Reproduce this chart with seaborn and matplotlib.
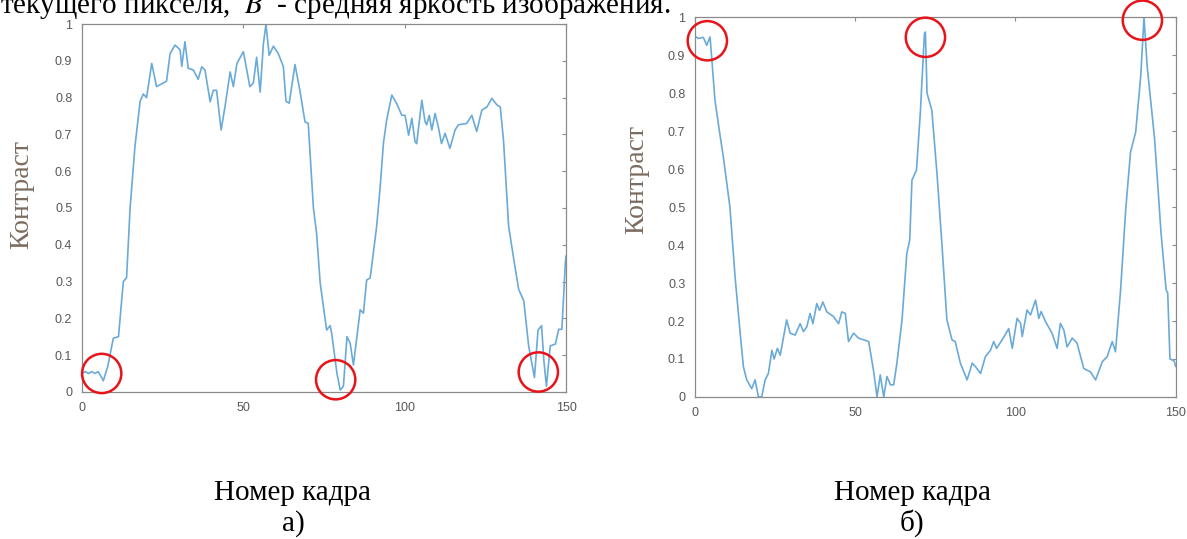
import matplotlib
matplotlib.use('Agg')
import matplotlib.pyplot as plt
import seaborn as sns

# кадры и контраст (а)
frames_a = [0, 1, 2, 3, 4, 5, 6, 6.6, 8, 9.7, 11.3, 12.8, 13.8, 14.9, 16.4, 18, 19, 20, 21.6, 23.1,
            25.2, 26.2, 27.3, 28.8, 30.4, 30.9, 31.9, 32.9, 34.5, 36, 37.1, 38.1, 39.7, 40.7, 41.7,
            43.1, 44.3, 45.9, 46.9, 48, 50, 52, 53.1, 54.1, 55.2, 56.2, 57, 58, 59.3, 60.8, 62.4,
            63.2, 64.2, 66, 67.5, 69.1, 70.1, 71.7, 72.7, 73.8, 75.8, 76.9, 77.4, 79, 80, 81, 82.1,
            83.1, 84.1, 86.2, 87.2, 88.2, 89.3, 91.3, 92.4, 93.4, 94.4, 96, 97.5, 99.1, 100.1,
            101.2, 102.2, 103.2, 103.7, 105.3, 106.3, 106.8, 107.6, 108.4, 109.4, 110.4, 111.4,
            112.5, 114, 115.6, 116.6, 119.2, 120.8, 122.3, 123.9, 125.5, 127, 128.6, 129.6, 130.6,
            132.2, 133.8, 135.3, 136.9, 138.4, 140.2, 141.3, 142.4, 143.1, 143.9, 145.1, 146.7,
            147.7, 148.7, 149.8, 150]
contrast_a = [0.05, 0.055, 0.05, 0.055, 0.05, 0.055, 0.04, 0.03, 0.07, 0.146, 0.15, 0.30, 0.31, 0.50,
              0.667, 0.79, 0.81, 0.80, 0.893, 0.83, 0.84, 0.845, 0.92, 0.943, 0.93, 0.885, 0.952,
              0.88, 0.875, 0.85, 0.884, 0.875, 0.789, 0.82, 0.82, 0.712, 0.775, 0.87, 0.83, 0.893,
              0.925, 0.83, 0.84, 0.91, 0.815, 0.946, 1.0, 0.915, 0.94, 0.92, 0.884, 0.79, 0.785,
              0.89, 0.82, 0.734, 0.73, 0.50, 0.43, 0.296, 0.168, 0.18, 0.157, 0.05, 0.005, 0.015,
              0.15, 0.132, 0.073, 0.223, 0.214, 0.304, 0.31, 0.45, 0.558, 0.676, 0.739, 0.807,
              0.784, 0.752, 0.752, 0.698, 0.744, 0.680, 0.675, 0.793, 0.735, 0.726, 0.752, 0.712,
              0.757, 0.721, 0.675, 0.703, 0.662, 0.712, 0.726, 0.73, 0.752, 0.708, 0.766, 0.775,
              0.798, 0.78, 0.775, 0.685, 0.45, 0.36, 0.279, 0.247, 0.125, 0.039, 0.168, 0.18,
              0.087, 0.015, 0.125, 0.13, 0.17, 0.17, 0.355, 0.37]

# картинка (б)
frames_b = [0, 1.05, 2.6, 3.65, 4.7, 5.2, 6.25, 7.8, 8.85, 10.9, 12.5, 14.1, 15.1, 16.15, 17.7, 18.75,
            19.8, 20.8, 21.9, 22.9, 24, 24.7, 25.7, 26.6, 28.6, 29.7, 31.25, 32.8, 33.85, 34.9, 35.9,
            36.8, 38, 38.85, 39.9, 41.15, 43.2, 44.8, 45.8, 46.9, 47.9, 49.5, 51, 54.2, 55.7, 56.8,
            57.8, 58.9, 59.9, 61, 62, 63, 64.6, 66.1, 67, 67.7, 69.1, 70.3, 71.6, 71.9, 72.4, 73.9,
            75.5, 77.1, 78.6, 80.2, 81.2, 82.8, 84.9, 86.5, 87.5, 89.1, 90.6, 92.2, 93.2, 94.1,
            95.8, 97.9, 99, 100.5, 101.6, 102.1, 103.6, 104.7, 106.25, 107.3, 108, 109.4, 111.4,
            113, 114, 115.1, 116.1, 117.7, 119.2, 121.3, 123.4, 125, 127.1, 128.6, 130.2, 131.2,
            132.8, 134.4, 135.9, 137.5, 139.1, 140.1, 141.1, 143.4, 145.4, 147, 147.5, 148.2,
            149.5, 150]
contrast_b = [0.95, 0.944, 0.947, 0.926, 0.948, 0.895, 0.78, 0.69, 0.632, 0.50, 0.317, 0.168, 0.08,
              0.045, 0.022, 0.045, 0.0, 0.0, 0.045, 0.062, 0.123, 0.1, 0.128, 0.11, 0.203, 0.168,
              0.163, 0.193, 0.172, 0.185, 0.22, 0.193, 0.246, 0.228, 0.25, 0.224, 0.212, 0.193,
              0.224, 0.22, 0.146, 0.168, 0.155, 0.146, 0.07, 0.0, 0.058, 0.0, 0.054, 0.032, 0.032,
              0.089, 0.203, 0.378, 0.413, 0.571, 0.597, 0.747, 0.957, 0.961, 0.80, 0.755, 0.589,
              0.396, 0.203, 0.150, 0.146, 0.089, 0.045, 0.089, 0.08, 0.062, 0.106, 0.123, 0.146,
              0.128, 0.150, 0.18, 0.128, 0.207, 0.194, 0.159, 0.229, 0.216, 0.255, 0.207, 0.225,
              0.198, 0.168, 0.128, 0.194, 0.176, 0.132, 0.155, 0.142, 0.075, 0.066, 0.045, 0.093,
              0.106, 0.146, 0.119, 0.282, 0.494, 0.645, 0.697, 0.847, 1.0, 0.87, 0.68, 0.434,
              0.282, 0.274, 0.1, 0.095, 0.08]

# красные кружки (центры)
circles_a_x = [6.1, 78.6, 141.4]
circles_a_y = [0.05, 0.033, 0.054]
circles_b_x = [3.85, 71.9, 139.6]
circles_b_y = [0.938, 0.947, 0.992]

x_ticks = [0, 50, 100, 150]
y_ticks = [0, 0.1, 0.2, 0.3, 0.4, 0.5, 0.6, 0.7, 0.8, 0.9, 1]
y_tick_labels = ['0', '0.1', '0.2', '0.3', '0.4', '0.5', '0.6', '0.7', '0.8', '0.9', '1']

sns.set_style('white')
plt.rcParams['font.family'] = ['Liberation Serif', 'DejaVu Serif']
plt.rcParams['mathtext.fontset'] = 'stix'

line_color = '#6aaad9'
fig = plt.figure(figsize=(11.87, 5.39), dpi=100)
ax_a = fig.add_axes([0.0691, 0.273, 0.4078, 0.6823])
ax_b = fig.add_axes([0.5855, 0.2635, 0.405, 0.7046])

panels = [(ax_a, frames_a, contrast_a, circles_a_x, circles_a_y),
          (ax_b, frames_b, contrast_b, circles_b_x, circles_b_y)]
for ax, xs, ys, cx, cy in panels:
    sns.lineplot(x=xs, y=ys, ax=ax, color=line_color, linewidth=1.2)
    sns.scatterplot(x=cx, y=cy, ax=ax, s=800, marker='o', facecolor='none',
                    edgecolor='#e8141a', linewidth=1.8, clip_on=False, zorder=5)
    ax.set_xlim(0, 150)
    ax.set_ylim(0, 1)
    ax.set_xticks(x_ticks)
    ax.set_yticks(y_ticks)
    ax.set_yticklabels(y_tick_labels)
    ax.tick_params(direction='in', length=3, width=0.8, color='#8a8a8a', labelcolor='#585858',
                   labelsize=9, top=True, right=True, pad=7)
    for lab in ax.get_xticklabels() + ax.get_yticklabels():
        lab.set_family(['Liberation Sans', 'DejaVu Sans'])
    for sp in ax.spines.values():
        sp.set_color('#8a8a8a')
        sp.set_linewidth(0.9)
    ax.set_xlabel('')
    ax.set_ylabel('')

# подписи оси Y
fig.text(22 / 1187, 1 - 194 / 539, 'Контраст', rotation=90, ha='center', va='center',
         fontsize=20, color='#7a6c60')
fig.text(637 / 1187, 1 - 180 / 539, 'Контраст', rotation=90, ha='center', va='center',
         fontsize=20, color='#7a6c60')

# подписи под графиками
for xc, letter in [(293, 'а)'), (912, 'б)')]:
    fig.text(xc / 1187, 1 - 500 / 539, 'Номер кадра', ha='center', va='baseline', fontsize=21,
             color='black')
    fig.text(xc / 1187, 1 - 531 / 539, letter, ha='center', va='baseline', fontsize=21,
             color='black')

# обрезанная строка текста сверху
fig.text(0.0, 1 - 13 / 539, r'текущего пикселя,  $B$  - средняя яркость изображения.',
         ha='left', va='baseline', fontsize=21, color='black')

plt.savefig('out.png', dpi=100)
